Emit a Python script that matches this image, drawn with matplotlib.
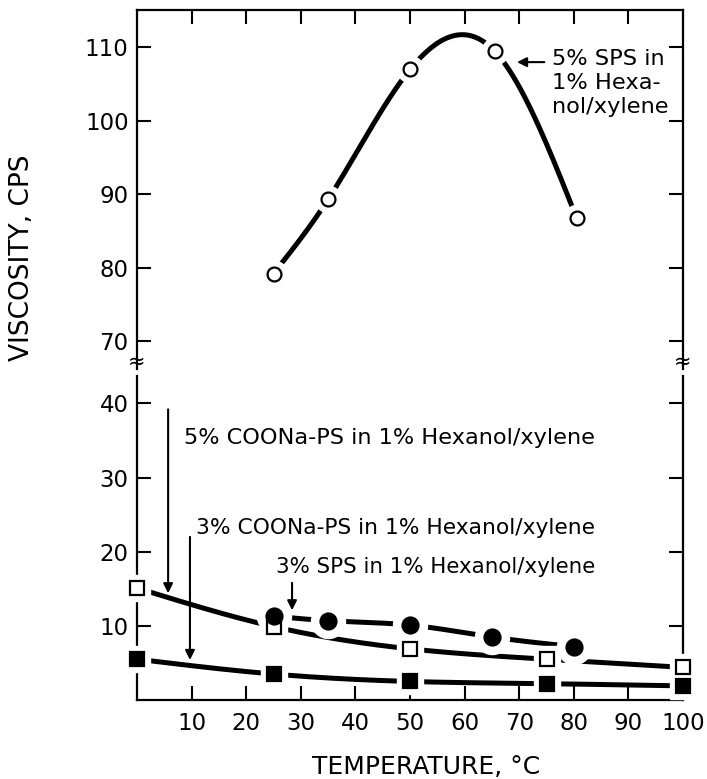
import numpy as np
import matplotlib
matplotlib.use("Agg")
import matplotlib.pyplot as plt

# ---- data ----
sps5_T = [25, 35, 50, 65.5, 80.5]
sps5_V = [79.2, 89.3, 107.0, 109.5, 86.8]

coona5_T = [0, 25, 50, 75, 100]
coona5_V = [15.1, 9.9, 6.9, 5.5, 4.4]

coona3_T = [0, 25, 50, 75, 100]
coona3_V = [5.5, 3.5, 2.5, 2.2, 1.9]

sps3_T = [25, 35, 50, 65, 80]
sps3_V = [11.3, 10.7, 10.1, 8.5, 7.2]

upper_yticks = [70, 80, 90, 100, 110]
lower_yticks = [10, 20, 30, 40]
xticks_bottom = [10, 20, 30, 40, 50, 60, 70, 80, 90, 100]
xticks_top = [10, 20, 30, 40, 50, 60, 70, 80, 90]


def natural_spline(x, y, n=300):
    x = np.asarray(x, float)
    y = np.asarray(y, float)
    k = len(x)
    h = np.diff(x)
    A = np.zeros((k, k))
    b = np.zeros(k)
    A[0, 0] = 1
    A[-1, -1] = 1
    for i in range(1, k - 1):
        A[i, i - 1] = h[i - 1]
        A[i, i] = 2 * (h[i - 1] + h[i])
        A[i, i + 1] = h[i]
        b[i] = 3 * ((y[i + 1] - y[i]) / h[i] - (y[i] - y[i - 1]) / h[i - 1])
    c = np.linalg.solve(A, b)
    xs = np.linspace(x[0], x[-1], n)
    ys = np.empty_like(xs)
    for j, xv in enumerate(xs):
        i = min(np.searchsorted(x, xv, side="right") - 1, k - 2)
        i = max(i, 0)
        dx = xv - x[i]
        bi = (y[i + 1] - y[i]) / h[i] - h[i] * (2 * c[i] + c[i + 1]) / 3
        di = (c[i + 1] - c[i]) / (3 * h[i])
        ys[j] = y[i] + bi * dx + c[i] * dx ** 2 + di * dx ** 3
    return xs, ys


plt.rcParams['font.family'] = ['DejaVu Sans']
fig = plt.figure(figsize=(7.07, 7.79), dpi=100)

L, R = 137 / 707, 683 / 707
ax_u = fig.add_axes([L, 1 - 369 / 779, R - L, (369 - 10) / 779])
ax_l = fig.add_axes([L, 1 - 700 / 779, R - L, (700 - 376) / 779])

LW = 3.6
for ax in (ax_u, ax_l):
    ax.set_xlim(0, 100)
    for s in ax.spines.values():
        s.set_linewidth(1.6)
    ax.tick_params(direction='in', length=10, width=1.5, labelsize=16.5,
                   right=True, top=False)

ax_u.set_ylim(66.2, 115.1)
ax_l.set_ylim(0, 43.7)
ax_u.spines['bottom'].set_visible(False)
ax_l.spines['top'].set_visible(False)

ax_u.set_yticks(upper_yticks)
ax_l.set_yticks(lower_yticks)
ax_u.set_xticks(xticks_top)
ax_u.tick_params(axis='x', bottom=False, top=True, labelbottom=False)
ax_l.set_xticks(xticks_bottom)
ax_l.set_xticklabels([str(t) for t in xticks_bottom])
ax_l.tick_params(axis='x', pad=9)
ax_u.tick_params(axis='y', pad=6)
ax_l.tick_params(axis='y', pad=6)


def draw_series(ax, T, V, marker, filled, ms, halo):
    xs, ys = natural_spline(T, V)
    ax.plot(xs, ys, color='black', lw=LW, solid_capstyle='butt', zorder=2, clip_on=False)
    # white halo to create gaps around markers
    ax.plot(T, V, ls='none', marker=marker, ms=ms + halo, mfc='white', mec='white',
            zorder=3, clip_on=False)
    ax.plot(T, V, ls='none', marker=marker, ms=ms,
            mfc='black' if filled else 'white', mec='black', mew=1.6,
            zorder=4, clip_on=False)


draw_series(ax_u, sps5_T, sps5_V, 'o', False, 10, 9)
draw_series(ax_l, coona5_T, coona5_V, 's', False, 9.5, 9)
draw_series(ax_l, coona3_T, coona3_V, 's', True, 10, 9)
draw_series(ax_l, sps3_T, sps3_V, 'o', True, 11.5, 13)

arrow = dict(arrowstyle='-|>', lw=1.5, color='black', mutation_scale=14,
             shrinkA=0, shrinkB=0)

# upper annotation
ax_u.annotate('', xy=(69.6, 108.0), xytext=(74.6, 108.0), arrowprops=arrow)
ax_u.text(76, 105.2, '5% SPS in\n1% Hexa-\nnol/xylene', fontsize=16.2,
          ha='left', va='center', linespacing=1.25)

# lower annotations (right edges aligned)
xr = 83.9
ax_l.annotate('', xy=(5.7, 14.4), xytext=(5.7, 39.2), arrowprops=arrow)
ax_l.text(xr, 35.3, '5% COONa-PS in 1% Hexanol/xylene', fontsize=16.1,
          ha='right', va='center')

ax_l.annotate('', xy=(9.7, 5.4), xytext=(9.7, 22.0), arrowprops=arrow)
ax_l.text(xr, 23.2, '3% COONa-PS in 1% Hexanol/xylene', fontsize=15.7,
          ha='right', va='center')

ax_l.annotate('', xy=(28.4, 12.1), xytext=(28.4, 15.8), arrowprops=arrow)
ax_l.text(xr, 17.9, '3% SPS in 1% Hexanol/xylene', fontsize=15.4,
          ha='right', va='center')

# break marks
for xf in (L, R):
    fig.text(xf, 1 - 362 / 779, '≈', fontsize=15, ha='center', va='center')

fig.text(22 / 707, 1 - 258 / 779, 'VISCOSITY, CPS', rotation=90, fontsize=19,
         ha='center', va='center')
fig.text(426 / 707, 1 - 767 / 779, 'TEMPERATURE, °C', fontsize=18,
         ha='center', va='center')

fig.savefig('out.png', dpi=100)
